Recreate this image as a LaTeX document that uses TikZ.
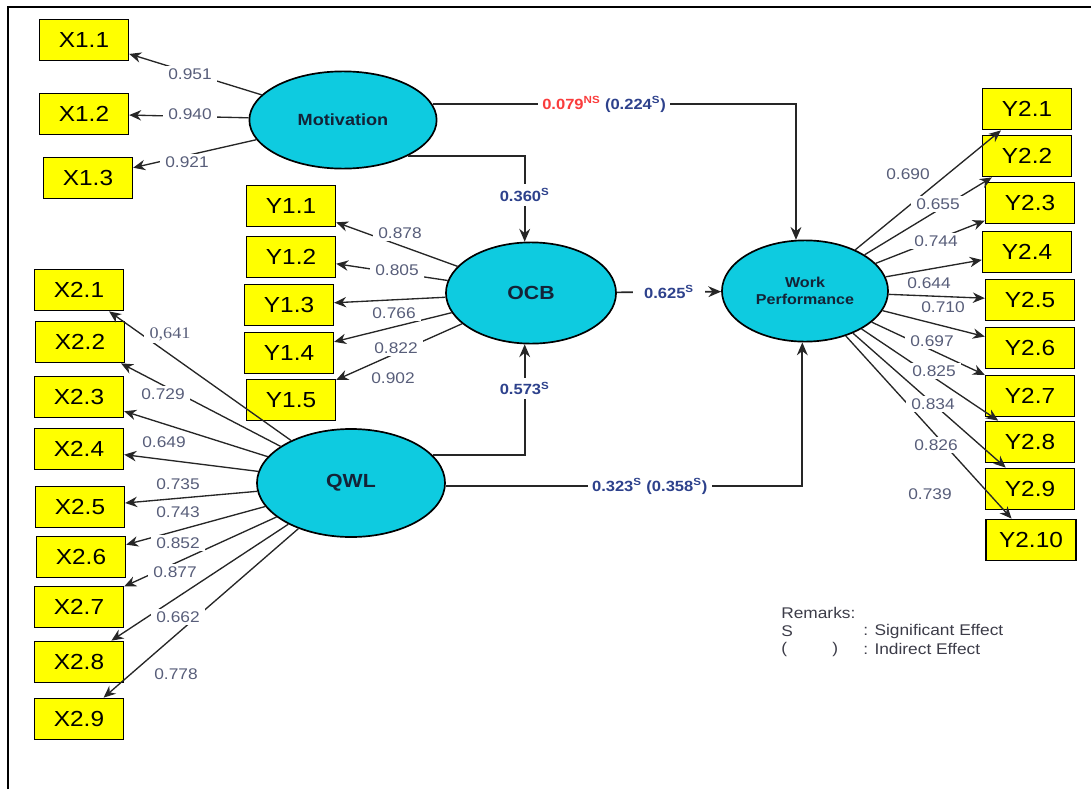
\documentclass[tikz,border=0pt]{standalone}
\usepackage{fontspec}
\setmainfont{Liberation Sans}[FakeStretch=1.12]
\newfontfamily\commafont{Liberation Serif}[FakeStretch=1.12]
\usepackage{xcolor}
\usepackage{tikz}
\usetikzlibrary{arrows.meta,shapes.geometric}
\definecolor{boxyellow}{RGB}{255,255,0}
\definecolor{latcyan}{RGB}{14,203,224}
\definecolor{latink}{RGB}{20,35,55}
\definecolor{lblgray}{RGB}{88,94,122}
\definecolor{coefblue}{RGB}{45,65,140}
\definecolor{nsred}{RGB}{250,60,60}
\definecolor{notegray}{RGB}{60,60,72}
\tikzset{
  indic/.style={draw=black, line width=1.1pt, fill=boxyellow, minimum width=2.22cm,
                minimum height=1.03cm, inner sep=0pt, font=\fontsize{15.5}{17}\selectfont},
  latent/.style={ellipse, draw=black, line width=1.2pt, fill=latcyan, inner sep=0pt,
                 text=latink, font=\bfseries\fontsize{13.5}{15}\selectfont},
  load/.style={-{Stealth[length=3mm,width=2.6mm]}, line width=0.95pt, black!85},
  struct/.style={-{Stealth[length=3.2mm,width=2.7mm]}, line width=1.2pt, black!85},
  lbl/.style={fill=white, inner xsep=4pt, inner ysep=2pt, text=lblgray, font=\fontsize{11}{13}\selectfont},
  coef/.style={fill=white, inner sep=3pt, text=coefblue, font=\bfseries\fontsize{10.5}{12}\selectfont},
  note/.style={anchor=west, inner sep=0pt, text=notegray, font=\fontsize{11}{13}\selectfont}
}

\begin{document}
\begin{tikzpicture}[x=0.025cm, y=-0.025cm]
\useasboundingbox (0,0) rectangle (1091,789);
\draw[line width=1.4pt] (8,789) -- (8,7) -- (1091,7);

% latent variables
\node[latent, minimum width=4.68cm, minimum height=2.43cm, font=\bfseries\fontsize{11.5}{13}\selectfont] (mot) at (343,120) {Motivation};
\node[latent, minimum width=4.25cm, minimum height=2.53cm] (ocb) at (531,293) {OCB};
\node[latent, minimum width=4.7cm, minimum height=2.7cm] (qwl) at (351,483) {QWL};
\node[latent, minimum width=4.15cm, minimum height=2.53cm, align=center, font=\bfseries\fontsize{10.2}{12.5}\selectfont] (wp) at (805,291) {Work\\Performance};

% indicators
\foreach \n/\t/\x/\y in {x11/X1.1/84/40, x12/X1.2/84/114, x13/X1.3/88/178,
    x21/X2.1/79/290, x22/X2.2/80/342, x23/X2.3/79/397, x24/X2.4/79/449, x25/X2.5/80/507,
    x26/X2.6/81/557, x27/X2.7/79/607, x28/X2.8/79/662, x29/X2.9/79/719,
    y11/Y1.1/291/206, y12/Y1.2/291/257, y13/Y1.3/289/305, y14/Y1.4/289/353, y15/Y1.5/291/400,
    y21/Y2.1/1027/109, y22/Y2.2/1027/156, y23/Y2.3/1030/203, y24/Y2.4/1027/252, y25/Y2.5/1030/300,
    y26/Y2.6/1030/348, y27/Y2.7/1030/396, y28/Y2.8/1030/442, y29/Y2.9/1030/489}
  \node[indic] (\n) at (\x,\y) {\t};
\node[indic, minimum width=2.25cm] (y210) at (1031,540) {Y2.10};

% loadings
\foreach \l/\n in {mot/x11, mot/x12, mot/x13,
    qwl/x21, qwl/x22, qwl/x23, qwl/x24, qwl/x25, qwl/x26, qwl/x27, qwl/x28, qwl/x29,
    ocb/y11, ocb/y12, ocb/y13, ocb/y14, ocb/y15,
    wp/y21, wp/y22, wp/y23, wp/y24, wp/y25, wp/y26, wp/y27, wp/y28, wp/y29, wp/y210}
  \draw[load] (\l) -- (\n);

\foreach \v/\x/\y [count=\i] in {0.951/190/74, 0.940/190/114, 0.921/187/162,
    0.729/163/394, 0.649/164/442, 0.735/178/484, 0.743/178/512,
    0.852/178/543, 0.877/175/572, 0.662/178/617, 0.778/176/674,
    0.878/400/233, 0.805/397/270, 0.766/394/313, 0.822/396/348, 0.902/393/378,
    0.690/908/174, 0.655/938/204, 0.744/936/241, 0.644/929/283, 0.710/943/307,
    0.697/932/341, 0.825/934/371, 0.834/933/404, 0.826/936/445, 0.739/930/494}
  \node[lbl] (ld\i) at (\x,\y) {\v};
\node[lbl, font=\commafont\fontsize{11.5}{13}\selectfont] (ld0) at (170,334) {0,641};

% structural paths
\draw[struct] (mot.10) -| node[coef, pos=0.236] (c1) {\textcolor{nsred}{0.079\textsuperscript{NS}} (0.224\textsuperscript{S})} (wp.100);
\draw[struct] (mot.-29) -| node[coef, pos=0.727] (c2) {0.360\textsuperscript{S}} (ocb.97);
\draw[struct] (qwl.19) -| node[coef, pos=0.8] (c3) {0.573\textsuperscript{S}} (ocb.-97);
\draw[struct] (qwl.-2) -| node[coef, pos=0.286] (c4) {0.323\textsuperscript{S} (0.358\textsuperscript{S})} (wp.-93);
\draw[struct] (ocb) -- node[coef, inner xsep=8pt] (c5) {0.625\textsuperscript{S}} (wp);

% remarks
\node[note] (r0) at (781,613) {Remarks:};
\node[note] (r1) at (781,631) {S};
\node[note] (r2) at (863,631) {: Significant Effect};
\node[note] (r3) at (781,649) {(};
\node[note] (r4) at (832,649) {)};
\node[note] (r5) at (863,649) {: Indirect Effect};
\end{tikzpicture}
\end{document}
